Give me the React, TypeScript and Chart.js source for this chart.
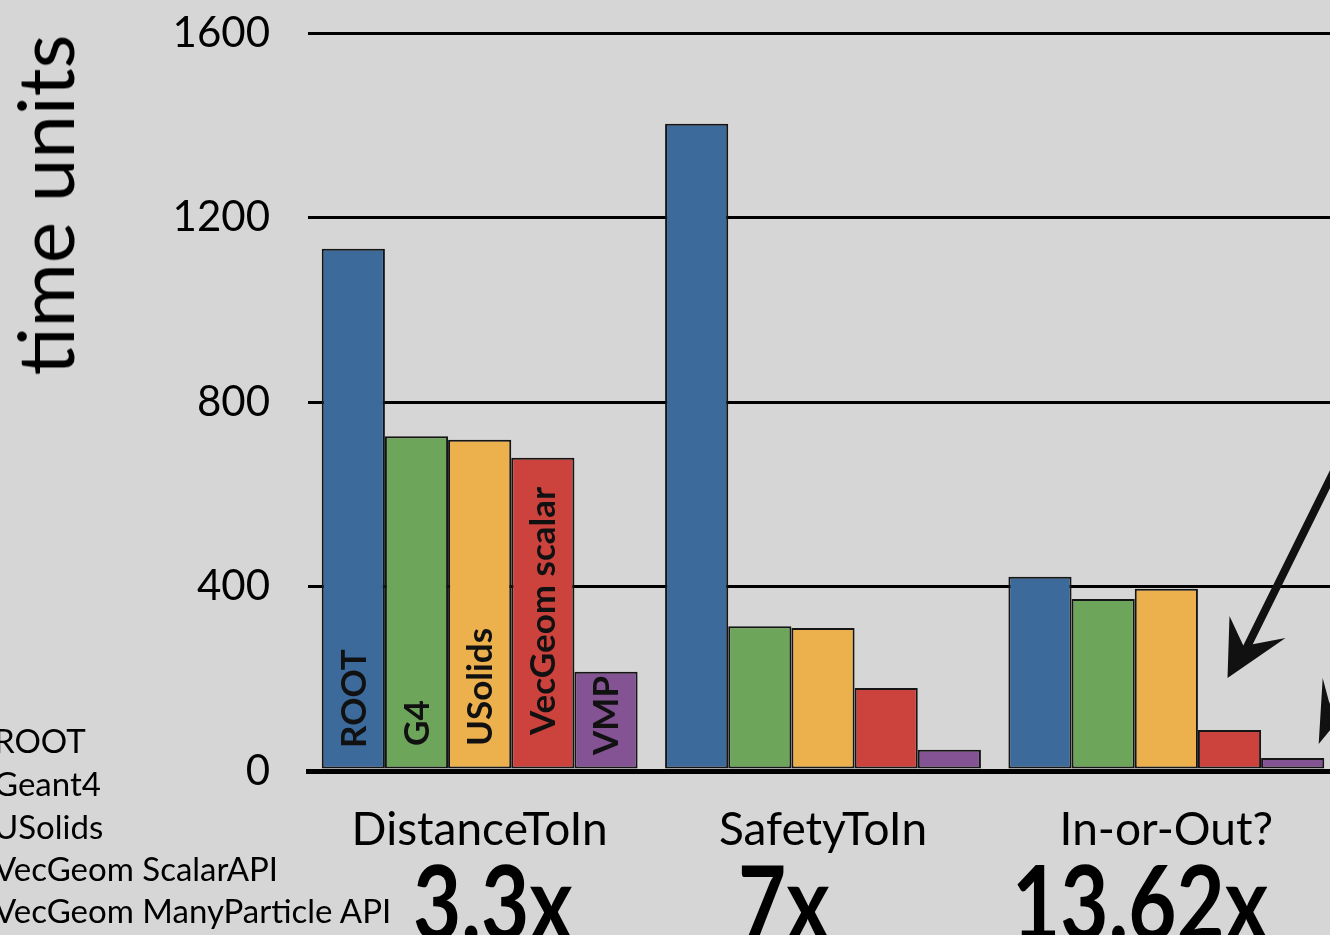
import React, { useEffect, useRef } from "react";
import { Chart, registerables } from "chart.js";

Chart.register(...registerables);

const categories = ["DistanceToIn", "SafetyToIn", "In-or-Out?"];
const seriesNames = ["ROOT", "Geant4", "USolids", "VecGeom ScalarAPI", "VecGeom ManyParticle API"];
const barLabels = ["ROOT", "G4", "USolids", "VecGeom scalar", "VMP"];
const rootValues = [1132, 1403, 421];
const geant4Values = [726, 314, 373];
const usolidsValues = [718, 310, 395];
const vecgeomScalarValues = [679, 180, 89];
const vecgeomManyParticleValues = [215, 46, 28];
const speedups = ["3.3x", "7x", "13.62x"];
const yTickValues = [0, 400, 800, 1200, 1600];
const seriesColors = ["#3c6a9b", "#6da55a", "#ecb04c", "#cc433d", "#845393"];

const BG = "#d6d6d6";
const labelBottomOffsets = [23, 25, 25, 36, 16];

const barLabelPlugin = {
  id: "barLabels",
  afterDatasetsDraw(chart: any) {
    const ctx = chart.ctx;
    const base = chart.scales.y.getPixelForValue(0);
    ctx.save();
    ctx.fillStyle = "#111";
    ctx.font = "bold 35px Lato";
    ctx.textAlign = "left";
    ctx.textBaseline = "middle";
    chart.data.datasets.forEach((_ds: any, i: number) => {
      const el = chart.getDatasetMeta(i).data[0];
      if (!el) return;
      ctx.save();
      ctx.translate(el.x + 1, base - labelBottomOffsets[i]);
      ctx.rotate(-Math.PI / 2);
      ctx.fillText(barLabels[i], 0, 0);
      ctx.restore();
    });
    ctx.restore();
  },
};

const arrowPlugin = {
  id: "arrows",
  afterDraw(chart: any) {
    const ctx = chart.ctx;
    const red = chart.getDatasetMeta(3).data[2];
    const purple = chart.getDatasetMeta(4).data[2];
    if (!red || !purple) return;
    ctx.save();
    ctx.fillStyle = "#111";
    ctx.strokeStyle = "#111";
    ctx.lineCap = "round";
    ctx.lineJoin = "round";
    let x = red.x, y = red.y;
    ctx.lineWidth = 8;
    ctx.beginPath();
    ctx.moveTo(x + 115, y - 280);
    ctx.lineTo(x + 14, y - 76);
    ctx.stroke();
    ctx.beginPath();
    ctx.moveTo(x - 2, y - 52);
    ctx.lineTo(x, y - 114);
    ctx.lineTo(x + 14, y - 84);
    ctx.lineTo(x + 56, y - 92);
    ctx.closePath();
    ctx.fill();
    x = purple.x; y = purple.y;
    ctx.beginPath();
    ctx.moveTo(x + 80, y - 170);
    ctx.lineTo(x + 36, y - 40);
    ctx.stroke();
    ctx.beginPath();
    ctx.moveTo(x + 26, y - 14);
    ctx.lineTo(x + 30, y - 80);
    ctx.lineTo(x + 38, y - 50);
    ctx.lineTo(x + 62, y - 58);
    ctx.closePath();
    ctx.fill();
    ctx.restore();
  },
};

function App() {
  const canvasRef = useRef<HTMLCanvasElement | null>(null);

  useEffect(() => {
    if (!canvasRef.current) return;
    const valuesList = [rootValues, geant4Values, usolidsValues, vecgeomScalarValues, vecgeomManyParticleValues];
    const chart = new Chart(canvasRef.current, {
      type: "bar",
      data: {
        labels: categories,
        datasets: seriesNames.map((name, i) => ({
          label: name,
          data: valuesList[i],
          backgroundColor: seriesColors[i],
          borderColor: "#151515",
          borderWidth: 2,
          borderSkipped: false,
          barPercentage: 1,
          categoryPercentage: 0.92,
        })),
      },
      options: {
        responsive: false,
        animation: false,
        devicePixelRatio: 1,
        layout: { padding: { top: 33, left: 0, right: 0, bottom: 0 } },
        plugins: {
          legend: { display: false },
          tooltip: { enabled: false },
        },
        scales: {
          x: {
            grid: { display: false },
            border: { display: true, color: "#000", width: 5 },
            ticks: {
              color: "#000",
              font: { family: "Lato", size: 46 },
              padding: 24,
            },
            afterFit: (scale: any) => {
              scale.height = 164;
              scale.paddingLeft = 0;
              scale.paddingRight = 0;
            },
          },
          y: {
            min: 0,
            max: 1600,
            afterBuildTicks: (scale: any) => {
              scale.ticks = yTickValues.map((v) => ({ value: v }));
            },
            grid: {
              color: "#000",
              lineWidth: (c: any) => (c.tick && c.tick.value === 0 ? 5 : 3),
              drawTicks: false,
            },
            border: { display: false },
            ticks: {
              color: "#000",
              font: { family: "Lato", size: 42 },
              padding: 38,
              callback: (v: any) => String(v),
            },
            afterFit: (scale: any) => {
              scale.width = 308;
              scale.paddingTop = 0;
              scale.paddingBottom = 0;
            },
          },
        },
      },
      plugins: [barLabelPlugin, arrowPlugin],
    });
    return () => chart.destroy();
  }, []);

  const legendTops = [721, 764, 807, 849, 891];
  const speedLefts = [413, 738, 1012];

  return (
    <div
      style={{
        position: "fixed",
        left: 0,
        top: 0,
        width: 1330,
        height: 935,
        overflow: "hidden",
        background: BG,
        fontFamily: "Lato, sans-serif",
        color: "#000",
      }}
    >
      <canvas ref={canvasRef} width={1338} height={935} style={{ position: "absolute", left: 0, top: 0 }} />
      <div
        style={{
          position: "absolute",
          left: 44,
          top: 205,
          transform: "translate(-50%, -50%) rotate(-90deg)",
          fontSize: 78,
          whiteSpace: "nowrap",
          lineHeight: 1,
        }}
      >
        time units
      </div>
      {seriesNames.map((n, i) => (
        <div
          key={n}
          style={{
            position: "absolute",
            left: -6,
            top: legendTops[i],
            fontSize: 33,
            lineHeight: "38px",
            whiteSpace: "nowrap",
          }}
        >
          {n}
        </div>
      ))}
      {speedups.map((s, i) => (
        <div
          key={s}
          style={{
            position: "absolute",
            left: speedLefts[i],
            top: 848,
            fontSize: 104,
            fontWeight: 700,
            lineHeight: 1,
            whiteSpace: "nowrap",
            transform: "scaleX(0.8)",
            transformOrigin: "left top",
          }}
        >
          {s}
        </div>
      ))}
    </div>
  );
}

export default App;
